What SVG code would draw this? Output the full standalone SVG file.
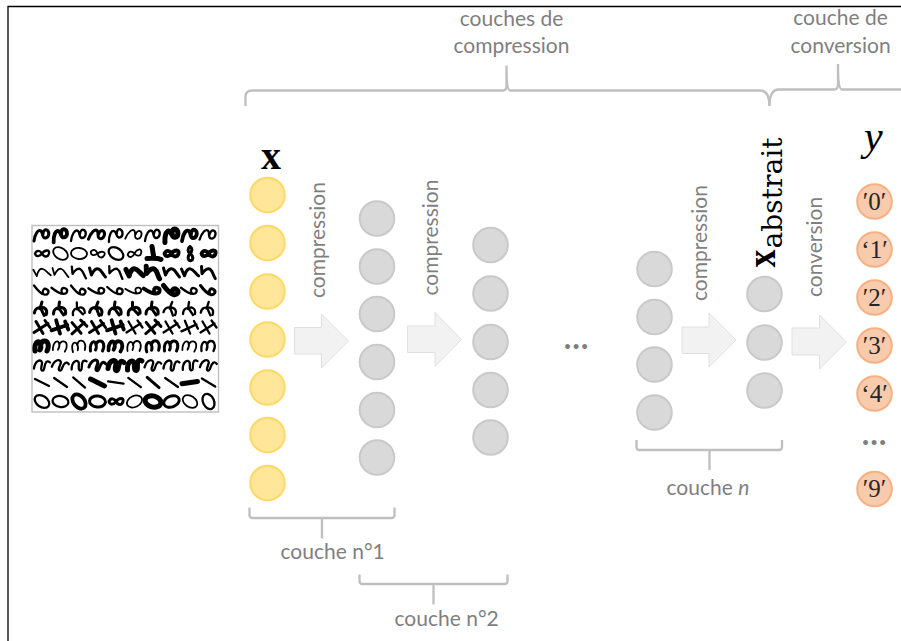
<svg xmlns="http://www.w3.org/2000/svg" width="901" height="641" viewBox="0 0 901 641">
<style>
  .in{fill:#FFE699;stroke:#FFD966;stroke-width:2}
  .hid{fill:#D9D9D9;stroke:#C9C9C9;stroke-width:2}
  .out{fill:#F8CBAD;stroke:#F4B183;stroke-width:2}
  .arrow{fill:#F2F2F2;stroke:#E0E0E0;stroke-width:1}
  .brace{fill:none;stroke:#BFBFBF;stroke-width:2.300}
  .lab{font-family:"Lato","Open Sans",sans-serif;font-size:21px;fill:#7F7F7F}
  .mid{text-anchor:middle}
  .cls{font-family:"Liberation Serif",serif;font-size:25px;fill:#262626;text-anchor:middle}
  .sym{font-family:"Liberation Serif",serif;fill:#000}
  .dots{font-family:"Lato",sans-serif;font-weight:700;fill:#7F7F7F;text-anchor:middle}
  .pen{fill:none;stroke:#000;stroke-linecap:round;stroke-linejoin:round}
  .t1{stroke-width:1.800}.t2{stroke-width:2.300}.t3{stroke-width:3}.t4{stroke-width:3.800}.t5{stroke-width:5}
</style>
<defs>
  <path id="d9" class="pen" d="M1 15C2 8 5 3 8 5C10 7 9 12 12 12C16 12 17 6 14 4C12 3 10 5 10 8"/>
  <path id="d8" class="pen" d="M2 9C4 5 7 6 9 9C11 13 15 13 16 9C17 5 12 5 9 9C7 12 3 13 2 9Z"/>
  <path id="d8b" class="pen" d="M8 2C9 7 9 10 10 13M3 14C8 14 13 13 17 15"/>
  <path id="d8c" class="pen" d="M9 2C6 4 7 8 9 9C12 11 13 15 10 16C7 17 6 12 9 9C11 7 12 4 9 2Z"/>
  <path id="d7" class="pen" d="M1 5L3 12C5 7 8 5 10 6C13 7 14 11 17 14"/>
  <path id="d6" class="pen" d="M1 4C4 8 7 12 11 13C15 14 17 10 14 8C11 6 9 9 10 12"/>
  <path id="d5" class="pen" d="M2 14C2 9 6 7 8 9L12 15M8 2L7 9C10 6 15 8 14 14"/>
  <path id="d4" class="pen" d="M3 3L10 15M1 14L15 5M12 2L17 9"/>
  <path id="d3" class="pen" d="M2 14C1 6 5 3 7 6C8 8 8 11 7 13M8 7C9 3 14 3 15 7C16 10 15 12 14 14"/>
  <path id="d2" class="pen" d="M1 13C2 5 8 3 9 7C9 11 7 14 9 15C12 16 11 9 13 7C14 5 16 6 17 7"/>
  <path id="d1" class="pen" d="M2 5L16 12"/>
  <ellipse id="d0" class="pen" cx="9" cy="9" rx="8" ry="5.500" transform="rotate(35 9 9)"/>
</defs>

<!-- page outline -->
<path d="M8 641V6.500H901" fill="none" stroke="#000" stroke-width="1.300"/>

<!-- sample sheet of handwritten digits -->
<g id="digits">
  <rect x="32" y="225.500" width="186.500" height="186.500" fill="#fff" stroke="#BFBFBF" stroke-width="1.400"/>
  <g transform="translate(0 226)">
    <use href="#d9" x="33" class="t3"/><use href="#d9" x="51.500" class="t4" transform="rotate(-10 60.500 9)"/><use href="#d9" x="70" class="t2"/><use href="#d9" x="88.500" class="t3" transform="rotate(12 97.500 9)"/><use href="#d9" x="107" class="t2" transform="rotate(-8 116 9)"/><use href="#d9" x="125.500" class="t1" transform="rotate(15 134.500 9)"/><use href="#d9" x="144" class="t2"/><use href="#d9" x="162.500" class="t5" transform="rotate(-12 171.500 9)"/><use href="#d9" x="181" class="t4"/><use href="#d9" x="199.500" class="t2" transform="rotate(10 208.500 9)"/>
  </g>
  <g transform="translate(0 244.500)">
    <use href="#d8" x="33" class="t2"/><use href="#d0" x="51.500" class="t1"/><use href="#d0" x="70" class="t1" transform="rotate(-30 79 9)"/><use href="#d8" x="88.500" class="t1" transform="rotate(15 97.500 9)"/><use href="#d0" x="107" class="t2"/><use href="#d8" x="125.500" class="t1" transform="rotate(-12 134.500 9)"/><use href="#d8b" x="144" class="t5"/><use href="#d8" x="162.500" class="t4"/><use href="#d8c" x="181" class="t3"/><use href="#d8" x="199.500" class="t4"/>
  </g>
  <g transform="translate(0 263)">
    <use href="#d7" x="33" class="t1" transform="rotate(-12 42 9)"/><use href="#d7" x="51.500" class="t1"/><use href="#d7" x="70" class="t2" transform="rotate(10 79 9)"/><use href="#d7" x="88.500" class="t3"/><use href="#d7" x="107" class="t2" transform="rotate(15 116 9)"/><use href="#d7" x="125.500" class="t5" transform="rotate(-10 134.500 9)"/><use href="#d7" x="144" class="t5" transform="rotate(14 153 9)"/><use href="#d7" x="162.500" class="t3"/><use href="#d7" x="181" class="t3" transform="rotate(-8 190 9)"/><use href="#d7" x="199.500" class="t3" transform="rotate(12 208.500 9)"/>
  </g>
  <g transform="translate(0 281.500)">
    <use href="#d6" x="33" class="t2"/><use href="#d6" x="51.500" class="t2" transform="rotate(-15 60.500 9)"/><use href="#d6" x="70" class="t2"/><use href="#d6" x="88.500" class="t2" transform="rotate(-18 97.500 9)"/><use href="#d6" x="107" class="t2" transform="rotate(-10 116 9)"/><use href="#d6" x="125.500" class="t1" transform="rotate(-22 134.500 9)"/><use href="#d6" x="144" class="t4" transform="rotate(-20 153 9)"/><use href="#d6" x="162.500" class="t5"/><use href="#d6" x="181" class="t2" transform="rotate(-15 190 9)"/><use href="#d6" x="199.500" class="t3"/>
  </g>
  <g transform="translate(0 300)">
    <use href="#d5" x="33" class="t3" transform="rotate(8 42 9)"/><use href="#d5" x="51.500" class="t3"/><use href="#d5" x="70" class="t2" transform="rotate(-10 79 9)"/><use href="#d5" x="88.500" class="t3" transform="rotate(12 97.500 9)"/><use href="#d5" x="107" class="t3"/><use href="#d5" x="125.500" class="t3" transform="rotate(-8 134.500 9)"/><use href="#d5" x="144" class="t3"/><use href="#d5" x="162.500" class="t2" transform="rotate(14 171.500 9)"/><use href="#d5" x="181" class="t2"/><use href="#d5" x="199.500" class="t2" transform="rotate(10 208.500 9)"/>
  </g>
  <g transform="translate(0 318.500)">
    <use href="#d4" x="33" class="t3"/><use href="#d4" x="51.500" class="t4" transform="rotate(14 60.500 9)"/><use href="#d4" x="70" class="t3" transform="rotate(-10 79 9)"/><use href="#d4" x="88.500" class="t3"/><use href="#d4" x="107" class="t4" transform="rotate(14 116 9)"/><use href="#d4" x="125.500" class="t2"/><use href="#d4" x="144" class="t3" transform="rotate(-8 153 9)"/><use href="#d4" x="162.500" class="t2"/><use href="#d4" x="181" class="t2" transform="rotate(8 190 9)"/><use href="#d4" x="199.500" class="t2"/>
  </g>
  <g transform="translate(0 337)">
    <use href="#d3" x="33" class="t5"/><use href="#d3" x="51.500" class="t1" transform="rotate(8 60.500 9)"/><use href="#d3" x="70" class="t1" transform="rotate(-10 79 9)"/><use href="#d3" x="88.500" class="t3"/><use href="#d3" x="107" class="t4" transform="rotate(6 116 9)"/><use href="#d3" x="125.500" class="t1"/><use href="#d3" x="144" class="t3" transform="rotate(-8 153 9)"/><use href="#d3" x="162.500" class="t3"/><use href="#d3" x="181" class="t1" transform="rotate(8 190 9)"/><use href="#d3" x="199.500" class="t2"/>
  </g>
  <g transform="translate(0 355.500)">
    <use href="#d2" x="33" class="t2"/><use href="#d2" x="51.500" class="t2" transform="rotate(12 60.500 9)"/><use href="#d2" x="70" class="t2" transform="rotate(-8 79 9)"/><use href="#d2" x="88.500" class="t3" transform="rotate(10 97.500 9)"/><use href="#d2" x="107" class="t5"/><use href="#d2" x="125.500" class="t5" transform="rotate(-12 134.500 9)"/><use href="#d2" x="144" class="t2" transform="rotate(8 153 9)"/><use href="#d2" x="162.500" class="t2"/><use href="#d2" x="181" class="t2" transform="rotate(-10 190 9)"/><use href="#d2" x="199.500" class="t2" transform="rotate(10 208.500 9)"/>
  </g>
  <g transform="translate(0 374)">
    <use href="#d1" x="33" class="t2"/><use href="#d1" x="51.500" class="t2" transform="rotate(8 60.500 9)"/><use href="#d1" x="70" class="t2" transform="rotate(14 79 9)"/><use href="#d1" x="88.500" class="t5"/><use href="#d1" x="107" class="t2" transform="rotate(-18 116 9)"/><use href="#d1" x="125.500" class="t2" transform="rotate(10 134.500 9)"/><use href="#d1" x="144" class="t3" transform="rotate(14 153 9)"/><use href="#d1" x="162.500" class="t2" transform="rotate(8 171.500 9)"/><use href="#d1" x="181" class="t5" transform="rotate(-35 190 9)"/><use href="#d1" x="199.500" class="t2" transform="rotate(5 208.500 9)"/>
  </g>
  <g transform="translate(0 392.500)">
    <use href="#d0" x="33" class="t2"/><use href="#d0" x="51.500" class="t2" transform="rotate(-25 60.500 9)"/><use href="#d0" x="70" class="t4" transform="rotate(15 79 9)"/><use href="#d0" x="88.500" class="t3" transform="rotate(-30 97.500 9)"/><use href="#d8" x="107" class="t3"/><use href="#d0" x="125.500" class="t1" transform="rotate(-60 134.500 9)"/><use href="#d0" x="144" class="t5" transform="rotate(-20 153 9)"/><use href="#d0" x="162.500" class="t3" transform="rotate(-55 171.500 9)"/><use href="#d0" x="181" class="t1"/><use href="#d0" x="199.500" class="t2" transform="rotate(30 208.500 9)"/>
  </g>
</g>

<!-- block arrows between layers -->
<g id="connectors">
  <path class="arrow" d="M294.500 327.500H321.500V314L348.500 341L321.500 368V354H294.500Z"/>
  <path class="arrow" d="M407.500 326H435V312.500L461.500 339.500L435 366.500V352.500H407.500Z"/>
  <path class="arrow" d="M682 327H709V313L736 340L709 367V353.500H682Z"/>
  <path class="arrow" d="M792 328H819.500V315L846.500 342L819.500 369V355H792Z"/>
</g>

<!-- brackets naming the layers -->
<g id="braces">
  <path class="brace" d="M245.500 106V97Q245.500 90.500 252 90.500H503Q506.500 90.500 506.500 86V65.500Q506.500 90.500 510 90.500H760Q769.500 90.500 769.500 106"/>
  <path class="brace" d="M769.500 106Q769.500 89.500 779 89.500H834Q838 89.500 838 85V64Q838 89.500 842 89.500H901"/>
  <path class="brace" d="M249.500 507.500V515Q249.500 518 252.500 518H391.500Q394.500 518 394.500 515V507.500M322 518V538.500"/>
  <path class="brace" d="M359.500 574.500V581Q359.500 584 362.500 584H504.500Q507.500 584 507.500 581V574.500M433.500 584V604.500"/>
  <path class="brace" d="M636.500 440V447Q636.500 450 639.500 450H779Q782 450 782 447V440M709.500 450V470"/>
</g>

<g id="input-layer">
  <circle class="in" cx="267.500" cy="195" r="17.300"/>
  <circle class="in" cx="267.500" cy="243" r="17.300"/>
  <circle class="in" cx="267.500" cy="291.500" r="17.300"/>
  <circle class="in" cx="267.500" cy="339.500" r="17.300"/>
  <circle class="in" cx="267.500" cy="387.500" r="17.300"/>
  <circle class="in" cx="267.500" cy="435" r="17.300"/>
  <circle class="in" cx="267.500" cy="483" r="17.300"/>
</g>
<g id="layer-1">
  <circle class="hid" cx="377" cy="218.500" r="17.300"/>
  <circle class="hid" cx="377" cy="266.500" r="17.300"/>
  <circle class="hid" cx="377" cy="314" r="17.300"/>
  <circle class="hid" cx="377" cy="362" r="17.300"/>
  <circle class="hid" cx="377" cy="410" r="17.300"/>
  <circle class="hid" cx="377" cy="457.500" r="17.300"/>
</g>
<g id="layer-2">
  <circle class="hid" cx="490.500" cy="245" r="17.300"/>
  <circle class="hid" cx="490.500" cy="293.500" r="17.300"/>
  <circle class="hid" cx="490.500" cy="342" r="17.300"/>
  <circle class="hid" cx="490.500" cy="390" r="17.300"/>
  <circle class="hid" cx="490.500" cy="437.500" r="17.300"/>
</g>
<g id="layer-n">
  <circle class="hid" cx="654.500" cy="269" r="17.300"/>
  <circle class="hid" cx="654.500" cy="317" r="17.300"/>
  <circle class="hid" cx="654.500" cy="364.500" r="17.300"/>
  <circle class="hid" cx="654.500" cy="412.500" r="17.300"/>
</g>
<g id="abstract-layer">
  <circle class="hid" cx="764.500" cy="294" r="17.300"/>
  <circle class="hid" cx="764.500" cy="342.500" r="17.300"/>
  <circle class="hid" cx="764.500" cy="390.500" r="17.300"/>
</g>
<g id="output-layer">
  <circle class="out" cx="874.500" cy="201.500" r="17.300"/>
  <circle class="out" cx="874.500" cy="249.500" r="17.300"/>
  <circle class="out" cx="874.500" cy="297.500" r="17.300"/>
  <circle class="out" cx="874.500" cy="345.500" r="17.300"/>
  <circle class="out" cx="874.500" cy="393.500" r="17.300"/>
  <circle class="out" cx="874.500" cy="489" r="17.300"/>
  <text class="cls" x="874.500" y="210">′0′</text>
  <text class="cls" x="874.500" y="258">‘1′</text>
  <text class="cls" x="874.500" y="306">′2′</text>
  <text class="cls" x="874.500" y="354">′3′</text>
  <text class="cls" x="874.500" y="402">‘4′</text>
  <text class="cls" x="874.500" y="497">′9′</text>
</g>

<!-- symbols -->
<text class="sym" x="261" y="169" font-size="42" font-weight="700" textLength="20" lengthAdjust="spacingAndGlyphs">x</text>
<text class="sym" x="864" y="150" font-size="42" font-style="italic">y</text>
<g transform="translate(775 267.500) rotate(-90)">
  <text class="sym" x="0" y="0" font-size="42" font-weight="700" textLength="18" lengthAdjust="spacingAndGlyphs">x</text>
  <text class="sym" x="19" y="6.500" font-size="28" textLength="111" lengthAdjust="spacingAndGlyphs" style="font-family:'DejaVu Serif',serif">abstrait</text>
</g>

<!-- captions -->
<text class="lab mid" x="511.500" y="26">couches de</text>
<text class="lab mid" x="511.500" y="53">compression</text>
<text class="lab mid" x="840.500" y="25">couche de</text>
<text class="lab mid" x="840.500" y="53">conversion</text>
<text class="lab" x="280.500" y="559">couche n°1</text>
<text class="lab" x="394.500" y="626">couche n°2</text>
<text class="lab" x="666.500" y="494.500">couche <tspan font-style="italic">n</tspan></text>
<text class="lab" transform="translate(325 298) rotate(-90)">compression</text>
<text class="lab" transform="translate(437.500 295.500) rotate(-90)">compression</text>
<text class="lab" transform="translate(706.500 301) rotate(-90)">compression</text>
<text class="lab" transform="translate(822 297) rotate(-90)">conversion</text>
<text class="dots" x="576" y="349" font-size="32">…</text>
<text class="dots" x="874" y="445" font-size="32">…</text>
</svg>
